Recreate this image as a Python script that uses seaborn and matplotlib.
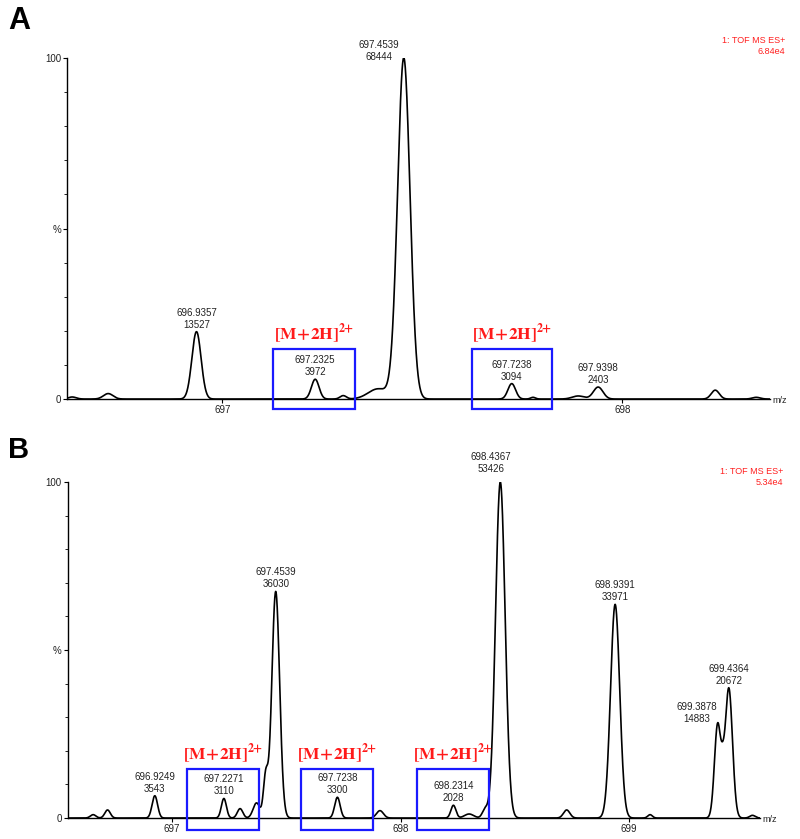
import numpy as np
import pandas as pd
import seaborn as sns
import matplotlib.pyplot as plt
from matplotlib.patches import Rectangle

# ---- panel A: labelled peaks (m/z, counts) ----
a_base = 68444
a_base_label = '6.84e4'
a_peak_mz = [696.9357, 697.2325, 697.4539, 697.7238, 697.9398]
a_peak_counts = [13527, 3972, 68444, 3094, 2403]
a_peak_sigma = [0.0115, 0.0095, 0.0155, 0.0095, 0.0120]
# small unlabelled bumps / shoulders (m/z, % intensity, sigma)
a_bump_mz = [696.625, 696.715, 697.3025, 697.390, 697.777, 697.890, 698.2325, 698.335]
a_bump_int = [0.6, 1.6, 1.0, 3.0, 0.5, 0.9, 2.6, 0.5]
a_bump_sigma = [0.010, 0.012, 0.008, 0.025, 0.006, 0.015, 0.010, 0.010]
a_boxes = [(697.1275, 697.3325), (697.625, 697.825)]
a_xticks = [697, 698]

# ---- panel B ----
b_base = 53426
b_base_label = '5.34e4'
b_peak_mz = [696.9249, 697.2271, 697.4539, 697.7238, 698.2314, 698.4367, 698.9391, 699.3878, 699.4364]
b_peak_counts = [3543, 3110, 36030, 3300, 2028, 53426, 33971, 14883, 20672]
b_peak_sigma = [0.012, 0.011, 0.017, 0.012, 0.011, 0.021, 0.020, 0.014, 0.016]
b_bump_mz = [696.655, 696.718, 697.298, 697.370, 697.410, 697.910, 698.300, 698.370, 698.727, 699.092, 699.410, 699.540]
b_bump_int = [1.0, 2.4, 2.8, 4.5, 12.0, 2.2, 1.2, 2.5, 2.4, 1.0, 5.0, 0.8]
b_bump_sigma = [0.012, 0.012, 0.012, 0.015, 0.010, 0.015, 0.020, 0.012, 0.014, 0.010, 0.008, 0.012]
b_boxes = [(697.066, 697.381), (697.565, 697.880), (698.072, 698.387)]
b_xticks = [697, 698, 699]


def profile(mz, centers, heights, sigmas):
    y = np.zeros_like(mz)
    for c, h, s in zip(centers, heights, sigmas):
        y += h * np.exp(-(mz - c) ** 2 / (2 * s ** 2))
    return y


sns.set_style('white')
plt.rcParams['font.family'] = ['Liberation Sans', 'DejaVu Sans']
plt.rcParams['mathtext.fontset'] = 'stix'

fig = plt.figure(figsize=(8, 8.39), dpi=100)
axA = fig.add_axes([0.084, 0.5244, 0.8788, 0.4064])
axB = fig.add_axes([0.085, 0.025, 0.865, 0.4005])

panels = [
    (axA, (696.6125, 698.37), a_base, a_peak_mz, a_peak_counts, a_peak_sigma,
     a_bump_mz, a_bump_int, a_bump_sigma, a_boxes, a_xticks, (-2.9, 14.7)),
    (axB, (696.545, 699.573), b_base, b_peak_mz, b_peak_counts, b_peak_sigma,
     b_bump_mz, b_bump_int, b_bump_sigma, b_boxes, b_xticks, (-3.6, 14.6)),
]

# label offsets in points (dx, dy) where a label is not centred over its peak
label_offsets = {
    (0, 697.4539): (-18, -3),
    (1, 698.4367): (-7, 6),
    (1, 699.3878): (-15, 0),
}

for i, (ax, xlim, base, pmz, pcnt, psig, bmz, bint, bsig, boxes, xt, box_y) in enumerate(panels):
    heights = [c / base * 100 for c in pcnt]
    mz = np.linspace(xlim[0], xlim[1], 4000)
    inten = profile(mz, pmz + bmz, heights + bint, psig + bsig)
    df = pd.DataFrame({'mz': mz, 'intensity': inten})
    sns.lineplot(data=df, x='mz', y='intensity', ax=ax, color='black', lw=1.2)

    ax.set_xlim(*xlim)
    ax.set_ylim(0, 100)
    ax.set_xlabel('')
    ax.set_ylabel('')
    for s in ['top', 'right']:
        ax.spines[s].set_visible(False)
    for s in ['left', 'bottom']:
        ax.spines[s].set_color('black')
        ax.spines[s].set_linewidth(1.0)
    ax.set_xticks(xt)
    ax.set_xticklabels([str(t) for t in xt])
    ax.set_yticks([0, 50, 100])
    ax.set_yticklabels(['0', '%', '100'])
    ax.set_yticks(np.arange(10, 100, 10), minor=True)
    ax.tick_params(axis='both', which='major', labelsize=7, length=3, width=0.8,
                   color='black', labelcolor='#222222', pad=1.5, direction='out',
                   bottom=True, left=True)
    ax.tick_params(axis='y', which='minor', length=2, width=0.6, color='black', left=True)
    ax.text(1.003, -0.004, 'm/z', transform=ax.transAxes, ha='left', va='center',
            fontsize=6.5, color='#222222')

    for m, c, h in zip(pmz, pcnt, heights):
        dx, dy = label_offsets.get((i, m), (0, 1.5))
        ax.annotate(f'{m:.4f}\n{c}', xy=(m, h), xytext=(dx, dy), textcoords='offset points',
                    ha='center', va='bottom', fontsize=7, color='#222222',
                    linespacing=1.25, annotation_clip=False)

    for x0, x1 in boxes:
        ax.add_patch(Rectangle((x0, box_y[0]), x1 - x0, box_y[1] - box_y[0], fill=False,
                               edgecolor='#1a1aff', lw=1.6, clip_on=False, zorder=5))
        ax.annotate(r'$\mathbf{[M\!+\!2H]}^{\mathbf{2\!\!+}}$', xy=((x0 + x1) / 2, box_y[1]),
                    xytext=(0, 2), textcoords='offset points', ha='center', va='bottom',
                    fontsize=12.5, color='#ff1a1a', annotation_clip=False)

fig.text(785 / 800, 1 - 46 / 839, '1: TOF MS ES+\n' + a_base_label, ha='right', va='center',
         fontsize=6.5, color='#ff2020', multialignment='right', linespacing=1.3)
fig.text(783 / 800, 1 - 477 / 839, '1: TOF MS ES+\n' + b_base_label, ha='right', va='center',
         fontsize=6.5, color='#ff2020', multialignment='right', linespacing=1.3)

fig.text(8 / 800, 1 - 6 / 839, 'A', ha='left', va='top', fontsize=22, fontweight='bold', color='black')
fig.text(8 / 800, 1 - 436 / 839, 'B', ha='left', va='top', fontsize=21, fontweight='bold', color='black')

fig.savefig('out.png', dpi=100)
